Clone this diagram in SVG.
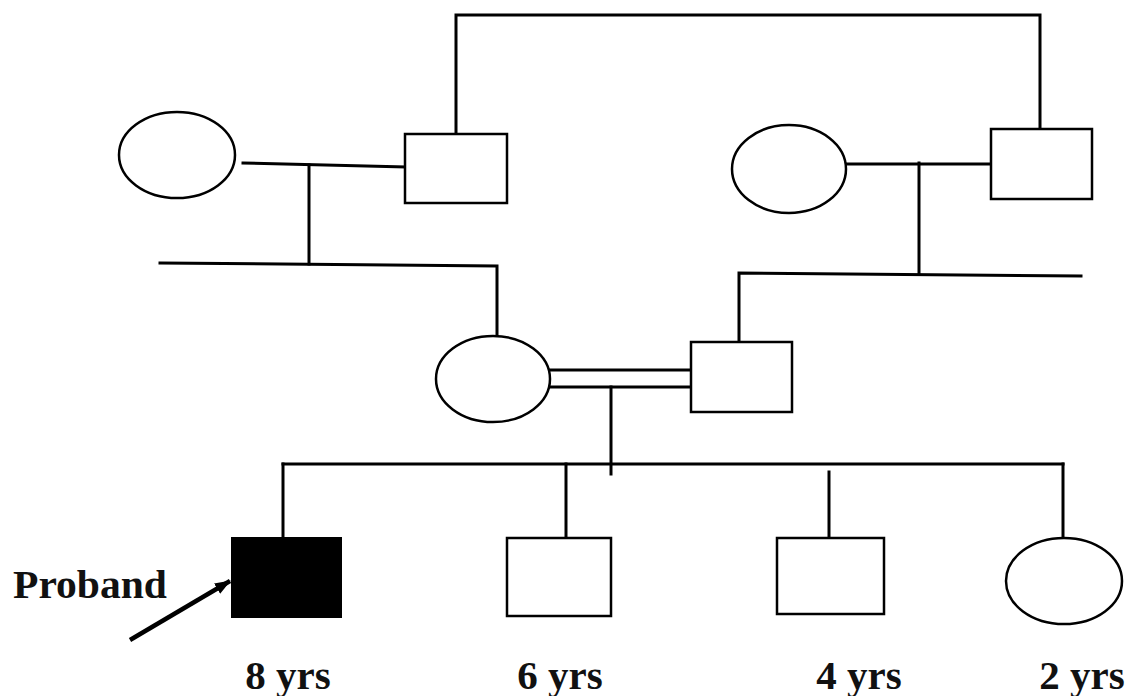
<svg xmlns="http://www.w3.org/2000/svg" width="1129" height="696" viewBox="0 0 1129 696">
<style>
.ln{stroke:#000;stroke-width:3;fill:none;stroke-linecap:square}
.sh{stroke:#000;stroke-width:2.5;fill:#fff}
.lbl{font-family:"Liberation Serif","Times New Roman",serif;font-weight:bold;font-size:41px;fill:#111}
</style>
<defs>
<marker id="ah" markerWidth="16" markerHeight="12" refX="15" refY="6" orient="auto" markerUnits="userSpaceOnUse" viewBox="0 0 16 12">
<path d="M0,0 L16,6 L0,12 Z" fill="#000"/>
</marker>
</defs>
<rect width="1129" height="696" fill="#fff"/>
<g id="connectors">
<polyline class="ln" points="456,134 456,15 1040,15 1040,129"/>
<line class="ln" x1="243" y1="163" x2="405" y2="167"/>
<line class="ln" x1="309" y1="165" x2="309" y2="264"/>
<polyline class="ln" points="160,263 497,266 497,336"/>
<line class="ln" x1="847" y1="164" x2="991" y2="164"/>
<line class="ln" x1="919" y1="163" x2="919" y2="274"/>
<polyline class="ln" points="739,342 739,273 1081,276"/>
<line class="ln" x1="550" y1="370" x2="691" y2="370"/>
<line class="ln" x1="550" y1="387" x2="691" y2="387"/>
<line class="ln" x1="611" y1="387" x2="611" y2="474"/>
<line class="ln" x1="283" y1="464" x2="1063" y2="464"/>
<line class="ln" x1="283" y1="464" x2="283" y2="538"/>
<line class="ln" x1="566" y1="464" x2="566" y2="538"/>
<line class="ln" x1="829" y1="472" x2="829" y2="538"/>
<line class="ln" x1="1063" y1="464" x2="1063" y2="538"/>
<line x1="130" y1="640" x2="230" y2="581" stroke="#000" stroke-width="4.5" marker-end="url(#ah)"/>
</g>
<g id="gm-left"><ellipse class="sh" cx="177" cy="155" rx="58" ry="43"/></g>
<g id="gf-left"><rect class="sh" x="405" y="134" width="102" height="69"/></g>
<g id="gm-right"><ellipse class="sh" cx="789" cy="169" rx="57" ry="44"/></g>
<g id="gf-right"><rect class="sh" x="991" y="129" width="101" height="70"/></g>
<g id="mother"><ellipse class="sh" cx="493" cy="379" rx="57" ry="43"/></g>
<g id="father"><rect class="sh" x="691" y="342" width="101" height="70"/></g>
<g id="proband"><rect x="232" y="538" width="109" height="79" fill="#000" stroke="#000" stroke-width="2"/></g>
<g id="child-6"><rect class="sh" x="507" y="538" width="104" height="78"/></g>
<g id="child-4"><rect class="sh" x="777" y="538" width="107" height="76"/></g>
<g id="child-2"><ellipse class="sh" cx="1064" cy="581" rx="58" ry="43"/></g>
<g id="labels">
<text class="lbl" x="13" y="598" textLength="154" lengthAdjust="spacingAndGlyphs">Proband</text>
<text class="lbl" x="288" y="689" text-anchor="middle">8 yrs</text>
<text class="lbl" x="560" y="689" text-anchor="middle">6 yrs</text>
<text class="lbl" x="859" y="689" text-anchor="middle">4 yrs</text>
<text class="lbl" x="1082" y="689" text-anchor="middle">2 yrs</text>
</g>
</svg>
